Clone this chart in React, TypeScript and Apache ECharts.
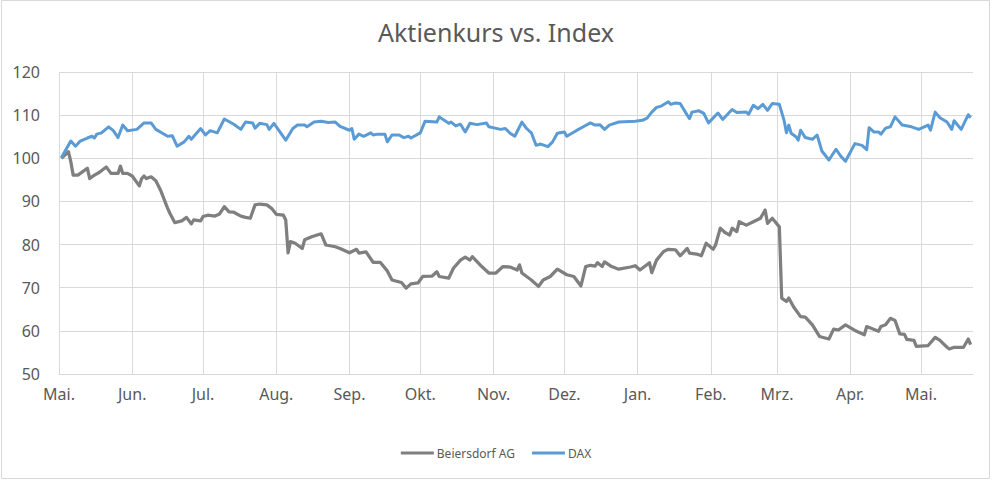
import React, { useEffect, useRef } from "react";
import * as echarts from "echarts";

// Day offsets counted from 1 May (first year)
const monthStarts = [0, 31, 61, 92, 123, 153, 184, 214, 245, 276, 304, 335, 365];
const monthLabels = ["Mai.", "Jun.", "Jul.", "Aug.", "Sep.", "Okt.", "Nov.", "Dez.", "Jan.", "Feb.", "Mrz.", "Apr.", "Mai."];

const yTicks = [50, 60, 70, 80, 90, 100, 110, 120];

const bdfDays = [1,4,5,6,8,12,13,15,17,20,22,25,26,27,29,31,34,35,36,37,39,41,43,46,47,49,52,54,56,57,60,61,63,66,68,70,72,74,77,79,81,83,85,88,90,92,95,96,97,98,100,103,104,107,111,113,117,119,123,126,127,130,133,136,139,141,145,147,149,152,154,158,160,161,165,167,170,172,174,175,179,182,185,188,191,194,195,196,200,203,205,208,211,215,218,221,223,225,227,228,230,231,234,237,242,244,246,250,251,253,256,258,261,263,266,267,270,272,274,277,278,280,282,284,285,287,288,291,294,297,299,300,302,305,306,308,309,311,314,316,319,322,326,328,330,333,337,341,342,347,348,350,352,354,356,358,359,362,363,368,371,373,376,377,379,383,385,386];
const bdfValues = [100,101.5,99.2,96.1,96.1,97.7,95.3,96.1,96.7,98.0,96.5,96.5,98.2,96.5,96.5,95.9,93.6,95.3,95.9,95.3,95.7,94.8,92.6,88.4,87.2,85.1,85.5,86.3,84.8,85.7,85.5,86.5,86.8,86.6,87.1,88.8,87.6,87.5,86.6,86.3,86.1,89.2,89.4,89.2,88.4,87.0,86.8,85.7,78.1,80.7,80.3,79.1,81.1,81.8,82.5,79.9,79.5,79.1,78.1,78.9,78.0,78.3,75.9,75.9,73.9,71.8,71.2,69.9,70.9,71.1,72.6,72.7,73.7,72.6,72.2,74.5,76.4,77.1,76.4,77.2,74.9,73.4,73.4,74.9,74.8,74.1,75.3,73.4,71.8,70.3,71.8,72.6,74.3,73.0,72.6,70.4,74.9,75.2,75.0,75.8,74.9,76.0,74.9,74.3,74.8,75.1,74.1,75.8,73.5,76.4,78.4,78.9,78.8,77.4,79.1,78.0,77.8,77.4,80.3,78.9,79.9,83.8,82.8,82.2,83.8,83.0,85.3,84.5,85.3,86.1,88.0,84.9,86.1,84.1,67.6,66.8,67.6,65.6,63.3,63.2,61.4,58.7,58.1,60.4,60.2,61.4,60.1,59.1,61.0,59.9,61.0,61.4,62.9,62.4,59.3,59.2,58.0,57.8,56.4,56.6,58.5,57.8,56.2,55.8,56.2,56.2,58.1,56.8];

const daxDays = [1,5,7,9,12,14,15,16,18,21,23,25,27,29,33,36,39,41,46,48,50,53,55,56,60,62,64,67,70,74,77,79,82,83,85,88,89,91,96,99,101,104,105,108,111,114,117,119,123,124,125,127,129,132,133,135,138,139,141,144,146,148,149,153,155,160,161,165,166,168,170,172,174,177,181,182,187,189,191,193,196,198,200,202,204,207,209,211,214,215,219,222,225,227,229,231,233,237,244,247,249,251,253,255,258,259,261,263,266,267,268,271,273,275,279,281,285,287,291,292,294,296,298,300,302,305,307,308,309,310,312,313,314,316,319,321,323,326,329,331,333,337,340,342,343,345,347,348,350,352,354,357,361,364,368,369,371,373,376,378,379,382,385,386];
const daxValues = [100.1,104.0,102.8,104.0,104.7,105.1,104.7,105.6,105.9,107.3,106.4,104.8,107.7,106.4,106.7,108.2,108.2,106.7,105.1,105.2,102.8,103.8,105.1,104.4,106.9,105.4,106.4,105.9,109.1,107.9,106.7,108.4,108.2,107.0,108.1,107.8,106.7,108.1,104.2,106.9,107.7,107.7,107.3,108.4,108.6,108.3,108.4,107.4,106.5,106.9,104.4,105.6,105.1,105.9,105.4,105.6,105.6,103.8,105.4,105.4,104.8,105.1,104.7,105.9,108.6,108.4,109.6,108.1,108.4,107.5,107.9,106.1,108.1,107.8,108.2,107.3,106.7,106.9,105.8,105.1,108.4,106.9,105.9,103.0,103.3,102.7,103.8,105.8,106.1,105.1,106.4,107.3,108.2,107.7,107.8,106.7,107.7,108.4,108.6,108.8,109.3,110.7,111.8,112.1,113.1,112.5,112.8,112.7,110.0,109.2,110.7,111.0,110.4,108.2,110.5,109.0,111.3,110.6,110.7,110.2,112.3,111.5,112.5,111.1,112.7,112.5,108.8,105.9,107.7,105.8,105.0,104.2,106.5,104.8,104.4,105.4,101.7,99.6,102.1,100.5,99.3,103.4,103.0,102.0,107.1,106.1,106.1,105.6,107.0,107.3,109.6,107.7,107.3,106.7,107.7,106.5,110.7,109.4,108.4,106.7,108.7,106.7,110.1,109.4];

const FONT = "'Noto Sans', 'Open Sans', sans-serif";
const TEXT = "#595959";
const GRID = "#d9d9d9";

export default function App() {
  const ref = useRef<HTMLDivElement>(null);
  useEffect(() => {
    document.body.style.margin = "0";
    if (!ref.current) return;
    const chart = echarts.init(ref.current, undefined, { renderer: "svg" });
    const zip = (xs: number[], ys: number[]) => xs.map((x, i) => [x, ys[i]]);
    chart.setOption({
      animation: false,
      backgroundColor: "#ffffff",
      textStyle: { fontFamily: FONT },
      title: {
        text: "Aktienkurs vs. Index",
        left: "center",
        top: 14,
        textStyle: { fontFamily: FONT, fontSize: 25, fontWeight: "normal", color: TEXT },
      },
      graphic: [
        {
          type: "rect",
          shape: { x: 1.5, y: 0.5, width: 988, height: 478 },
          style: { fill: "none", stroke: GRID, lineWidth: 1 },
          silent: true,
        },
      ],
      grid: { left: 59, right: 19, top: 72, bottom: 106, containLabel: false },
      legend: {
        bottom: 16,
        left: "center",
        icon: "rect",
        itemWidth: 33,
        itemHeight: 3,
        itemGap: 17,
        textStyle: { fontFamily: FONT, fontSize: 12, color: TEXT, padding: [0, 0, 0, -2] },
        data: ["Beiersdorf AG", "DAX"],
      },
      xAxis: {
        type: "value",
        min: 0,
        max: 387,
        axisLine: { show: true, lineStyle: { color: GRID, width: 1 } },
        axisTick: { show: false, customValues: monthStarts },
        axisLabel: {
          customValues: monthStarts,
          color: TEXT,
          fontSize: 16,
          fontFamily: FONT,
          margin: 12,
          formatter: (v: number) => {
            const i = monthStarts.indexOf(Math.round(v));
            return i >= 0 ? monthLabels[i] : "";
          },
        },
        splitLine: { show: true, lineStyle: { color: GRID, width: 1 } },
      },
      yAxis: {
        type: "value",
        min: yTicks[0],
        max: yTicks[yTicks.length - 1],
        interval: 10,
        axisLine: { show: false },
        axisTick: { show: false },
        axisLabel: { color: TEXT, fontSize: 16, fontFamily: FONT, margin: 19 },
        splitLine: { show: true, lineStyle: { color: GRID, width: 1 } },
      },
      series: [
        {
          name: "Beiersdorf AG",
          type: "line",
          data: zip(bdfDays, bdfValues),
          showSymbol: false,
          symbol: "none",
          lineStyle: { color: "#7f7f7f", width: 3.25, join: "round" },
          itemStyle: { color: "#7f7f7f" },
        },
        {
          name: "DAX",
          type: "line",
          data: zip(daxDays, daxValues),
          showSymbol: false,
          symbol: "none",
          lineStyle: { color: "#5b9bd5", width: 3, join: "round" },
          itemStyle: { color: "#5b9bd5" },
        },
      ],
    });
    return () => chart.dispose();
  }, []);
  return <div ref={ref} style={{ width: 992, height: 480 }} />;
}
